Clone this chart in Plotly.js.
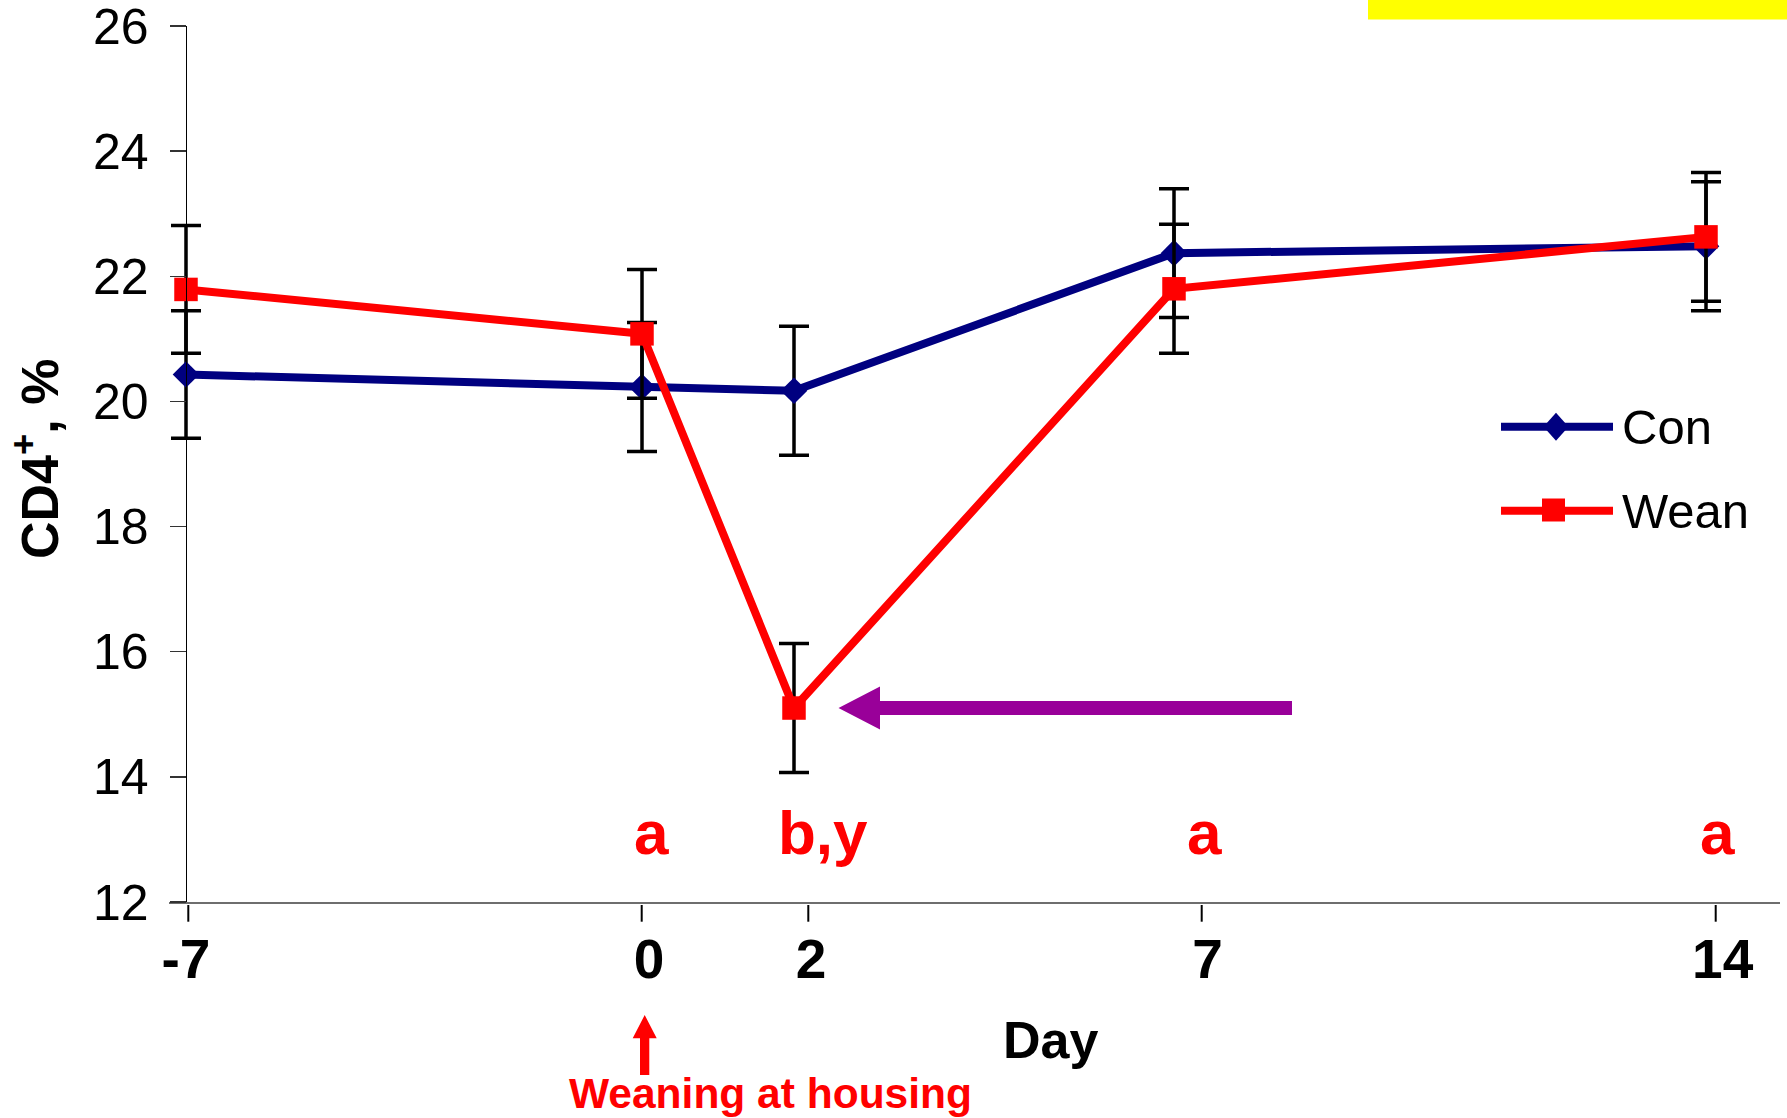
<!DOCTYPE html>
<html>
<head>
<meta charset="utf-8">
<script src="https://cdn.plot.ly/plotly-3.0.1.min.js"></script>
<style>
  html, body { margin: 0; padding: 0; background: #ffffff; }
  #chart { width: 1787px; height: 1118px; }
</style>
</head>
<body>
<div id="chart"></div>
<script>
// ---------------- data ----------------
const dayLabels   = ['-7', '0', '2', '7', '14'];      // x tick labels
const dayDrawn    = [-6, 0, 2, 7, 14];                // where the points sit on the day scale
const conValues   = [20.43, 20.23, 20.17, 22.37, 22.48];
const conErrors   = [1.02, 1.03, 1.03, 1.03, 1.03];
const weanValues  = [21.79, 21.08, 15.10, 21.80, 22.63];
const weanErrors  = [1.02, 1.03, 1.03, 1.03, 1.03];
const yTicks      = [12, 14, 16, 18, 20, 22, 24, 26];
const sigLetters  = ['a', 'b,y', 'a', 'a'];           // Wean vs Con letters for days 0, 2, 7, 14
const seriesNames = ['Con', 'Wean'];

// ---------------- layout geometry ----------------
const FIG_W = 1787, FIG_H = 1118;
const M = { l: 169, r: 7, t: 26, b: 216 };
const L = M.l, R = FIG_W - M.r, T = M.t, B = FIG_H - M.b;
const PW = R - L, PH = B - T;
const px = v => (v - L) / PW;      // pixel x -> paper x
const py = v => (B - v) / PH;      // pixel y -> paper y
const X0 = 642, PXDAY = 76;        // day scale: 0 at 642 px, 76 px per day
const XRANGE = [(L - X0) / PXDAY, (R - X0) / PXDAY];
const dx = v => (v - X0) / PXDAY;  // pixel x -> day units
const Y_AXIS_PX = 185.5;

const NAVY = '#000080', RED = '#FF0000', PURPLE = '#990099';
const FONT = 'Liberation Sans, Arial, sans-serif';

const traces = [
  {
    type: 'scatter', mode: 'lines+markers', name: seriesNames[0],
    x: dayDrawn, y: conValues,
    line: { color: NAVY, width: 8 },
    marker: { symbol: 'diamond', size: 20.5, color: NAVY },
    error_y: { type: 'data', array: conErrors, visible: true, color: '#000000', thickness: 3.5, width: 15 },
    showlegend: false, cliponaxis: false
  },
  {
    type: 'scatter', mode: 'lines+markers', name: seriesNames[1],
    x: dayDrawn, y: weanValues,
    line: { color: RED, width: 8 },
    marker: { symbol: 'square', size: 23.5, color: RED },
    error_y: { type: 'data', array: weanErrors, visible: true, color: '#000000', thickness: 3.5, width: 15 },
    showlegend: false, cliponaxis: false
  }
];

const shapes = [
  // yellow bar in top right corner
  { type: 'rect', xref: 'paper', yref: 'paper', x0: px(1368), x1: px(1790), y0: py(19.5), y1: py(-2),
    fillcolor: '#FFFF00', line: { width: 0 } },
  // purple arrow pointing at the Wean day-2 point
  { type: 'path', xref: 'paper', yref: 'paper', fillcolor: PURPLE, line: { width: 0 },
    path: 'M' + px(838.5) + ',' + py(708) +
          ' L' + px(880) + ',' + py(686.5) +
          ' L' + px(880) + ',' + py(701) +
          ' L' + px(1292) + ',' + py(701) +
          ' L' + px(1292) + ',' + py(715) +
          ' L' + px(880) + ',' + py(715) +
          ' L' + px(880) + ',' + py(729.5) + ' Z' },
  // red arrow under day 0
  { type: 'path', xref: 'paper', yref: 'paper', fillcolor: RED, line: { width: 0 },
    path: 'M' + px(644.7) + ',' + py(1015) +
          ' L' + px(656.7) + ',' + py(1038.3) +
          ' L' + px(649.3) + ',' + py(1038.3) +
          ' L' + px(649.3) + ',' + py(1075) +
          ' L' + px(640) + ',' + py(1075) +
          ' L' + px(640) + ',' + py(1038.3) +
          ' L' + px(632.7) + ',' + py(1038.3) + ' Z' },
  // legend: Con
  { type: 'line', xref: 'paper', yref: 'paper', x0: px(1501), x1: px(1613), y0: py(426.7), y1: py(426.7),
    line: { color: NAVY, width: 8 } },
  { type: 'path', xref: 'paper', yref: 'paper', fillcolor: NAVY, line: { width: 0 },
    path: 'M' + px(1556) + ',' + py(412.7) +
          ' L' + px(1568.5) + ',' + py(426.7) +
          ' L' + px(1556) + ',' + py(440.7) +
          ' L' + px(1543.5) + ',' + py(426.7) + ' Z' },
  // legend: Wean
  { type: 'line', xref: 'paper', yref: 'paper', x0: px(1501), x1: px(1613), y0: py(510.7), y1: py(510.7),
    line: { color: RED, width: 8 } },
  { type: 'rect', xref: 'paper', yref: 'paper', x0: px(1542), x1: px(1565), y0: py(521.5), y1: py(498.5),
    fillcolor: RED, line: { width: 0 } }
];
// x tick marks, drawn slightly detached below the axis line
[188.3, 641.7, 808.3, 1201.7, 1715.7].forEach(xp => {
  shapes.push({ type: 'line', xref: 'x', yref: 'paper', x0: dx(xp), x1: dx(xp), y0: py(905), y1: py(921.7),
    line: { color: '#000000', width: 2 } });
});

const letterX = [651, 822.5, 1204, 1717];
const annotations = [
  { text: 'CD4<sup>+</sup>, %', xref: 'paper', yref: 'paper', x: px(36), y: py(459), textangle: -90,
    showarrow: false, xanchor: 'center', yanchor: 'middle',
    font: { family: FONT, size: 52, color: '#000000', weight: 'bold' } },
  { text: 'Day', xref: 'paper', yref: 'paper', x: px(1050), y: py(1040), showarrow: false,
    xanchor: 'center', yanchor: 'middle',
    font: { family: FONT, size: 52, color: '#000000', weight: 'bold' } },
  { text: 'Weaning at housing', xref: 'paper', yref: 'paper', x: px(770), y: py(1093.5), showarrow: false,
    xanchor: 'center', yanchor: 'middle',
    font: { family: FONT, size: 42.5, color: RED, weight: 'bold' } },
  { text: seriesNames[0], xref: 'paper', yref: 'paper', x: px(1620), y: py(426.5), showarrow: false,
    xanchor: 'left', yanchor: 'middle', font: { family: FONT, size: 49, color: '#000000' } },
  { text: seriesNames[1], xref: 'paper', yref: 'paper', x: px(1620), y: py(510.5), showarrow: false,
    xanchor: 'left', yanchor: 'middle', font: { family: FONT, size: 49, color: '#000000' } }
];
sigLetters.forEach((t, i) => {
  annotations.push({ text: t, xref: 'paper', yref: 'paper', x: px(letterX[i]), y: py(832.5),
    showarrow: false, xanchor: 'center', yanchor: 'middle',
    font: { family: FONT, size: 62, color: RED, weight: 'bold' } });
});

const layout = {
  width: FIG_W, height: FIG_H,
  margin: M,
  paper_bgcolor: '#ffffff', plot_bgcolor: '#ffffff',
  showlegend: false,
  font: { family: FONT, color: '#000000' },
  xaxis: {
    type: 'linear', range: XRANGE, fixedrange: true,
    showgrid: false, zeroline: false,
    showline: true, linecolor: '#6e6e6e', linewidth: 1.5,
    tickmode: 'array', tickvals: [dx(186), dx(649), dx(811), dx(1207.5), dx(1722.7)], ticktext: dayLabels,
    ticks: 'outside', ticklen: 1, tickwidth: 1, tickcolor: 'rgba(0,0,0,0)',
    ticklabelstandoff: 7, ticklabeloverflow: 'allow',
    tickfont: { family: FONT, size: 55, color: '#000000', weight: 'bold' }
  },
  yaxis: {
    type: 'linear', range: [12, 26], fixedrange: true,
    anchor: 'free', position: px(Y_AXIS_PX),
    showgrid: false, zeroline: false,
    showline: true, linecolor: '#000000', linewidth: 1.5,
    tickmode: 'array', tickvals: yTicks,
    ticks: 'outside', ticklen: 16, tickwidth: 1.5, tickcolor: '#333333',
    ticklabelstandoff: 11, ticklabeloverflow: 'allow',
    tickfont: { family: FONT, size: 50, color: '#000000' }
  },
  shapes: shapes,
  annotations: annotations
};

Plotly.newPlot('chart', traces, layout, { staticPlot: true, displayModeBar: false });
</script>
</body>
</html>
